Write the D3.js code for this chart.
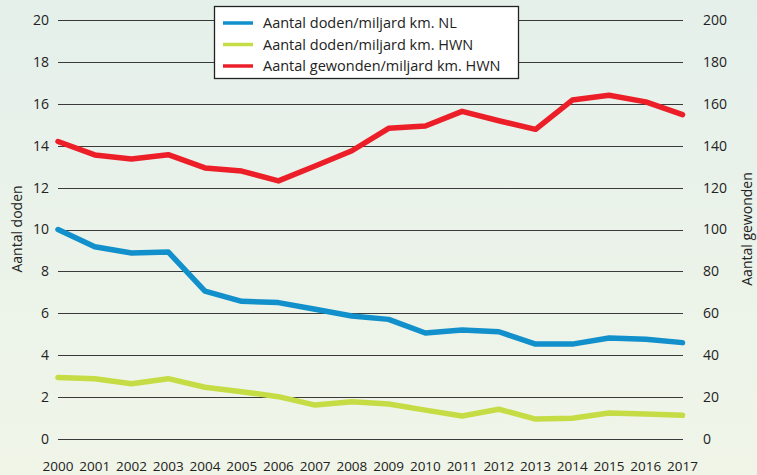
<!DOCTYPE html>
<html>
<head>
<meta charset="utf-8">
<script src="https://cdn.jsdelivr.net/npm/d3@7"></script>
<style>
  body { margin: 0; }
  svg { display: block; font-family: "Open Sans", sans-serif; }
</style>
</head>
<body>
<div id="chart"></div>
<script>
// Data
const years = d3.range(2000, 2018);
const dodenNL = [10.0, 9.18, 8.88, 8.93, 7.06, 6.57, 6.51, 6.19, 5.87, 5.71, 5.06, 5.2, 5.12, 4.53, 4.53, 4.82, 4.76, 4.6];
const dodenHWN = [2.94, 2.88, 2.64, 2.88, 2.47, 2.26, 2.02, 1.62, 1.78, 1.67, 1.38, 1.1, 1.42, 0.95, 0.99, 1.24, 1.19, 1.13];
const gewondenHWN = [142, 135.6, 133.7, 135.7, 129.4, 127.9, 123.2, 130.3, 137.6, 148.3, 149.4, 156.4, 151.9, 147.8, 161.8, 164.1, 160.9, 154.8];
const leftTicks = [0, 2, 4, 6, 8, 10, 12, 14, 16, 18, 20];
const rightTicks = [0, 20, 40, 60, 80, 100, 120, 140, 160, 180, 200];
const legendLabels = ['Aantal doden/miljard km. NL', 'Aantal doden/miljard km. HWN', 'Aantal gewonden/miljard km. HWN'];
const colors = ['#1190cc', '#c6dc44', '#ec1f29'];

const width = 757;
const height = 475;

// Scales
const x_scale = d3.scaleLinear()
    .domain([2000, 2017])
    .range([58, 682.5]);

const y_left = d3.scaleLinear()
    .domain([0, 20])
    .range([439, 20]);

const y_right = d3.scaleLinear()
    .domain([0, 200])
    .range([439, 20]);

// SVG
const svg = d3.select('#chart')
    .append('svg')
    .attr('width', width)
    .attr('height', height);

// Background
const grad = svg.append('defs')
    .append('linearGradient')
    .attr('id', 'bg')
    .attr('x1', 0).attr('y1', 0)
    .attr('x2', 0).attr('y2', 1);
grad.append('stop').attr('offset', '0%').attr('stop-color', '#e5f0eb');
grad.append('stop').attr('offset', '100%').attr('stop-color', '#f0f5e8');

svg.append('rect')
    .attr('width', width)
    .attr('height', height)
    .attr('fill', 'url(#bg)');

// Grid lines
svg.selectAll('.grid')
    .data(leftTicks)
    .enter()
    .append('line')
    .attr('x1', 58)
    .attr('x2', 683)
    .attr('y1', d => Math.round(y_left(d)) + 0.5)
    .attr('y2', d => Math.round(y_left(d)) + 0.5)
    .attr('stroke', '#3a3a3a')
    .attr('stroke-width', 1.2);

// Left tick labels
svg.selectAll('.ltick')
    .data(leftTicks)
    .enter()
    .append('text')
    .attr('x', 49)
    .attr('y', d => y_left(d))
    .attr('dy', '0.35em')
    .attr('text-anchor', 'end')
    .attr('font-size', 14)
    .attr('fill', '#222')
    .text(d => d);

// Right tick labels
svg.selectAll('.rtick')
    .data(rightTicks)
    .enter()
    .append('text')
    .attr('x', 703)
    .attr('y', d => y_right(d))
    .attr('dy', '0.35em')
    .attr('font-size', 14)
    .attr('fill', '#222')
    .text(d => d);

// X labels
svg.selectAll('.xtick')
    .data(years)
    .enter()
    .append('text')
    .attr('x', d => x_scale(d))
    .attr('y', 471)
    .attr('text-anchor', 'middle')
    .attr('font-size', 13.5)
    .attr('fill', '#222')
    .text(d => d);

// Axis titles
svg.append('text')
    .attr('transform', 'translate(22,229) rotate(-90)')
    .attr('text-anchor', 'middle')
    .attr('font-size', 14)
    .attr('fill', '#222')
    .text('Aantal doden');

svg.append('text')
    .attr('transform', 'translate(752,229) rotate(-90)')
    .attr('text-anchor', 'middle')
    .attr('font-size', 14)
    .attr('fill', '#222')
    .text('Aantal gewonden');

// Lines
const series = [
    { values: dodenNL, y: y_left },
    { values: dodenHWN, y: y_left },
    { values: gewondenHWN, y: y_right }
];

series.forEach((s, i) => {
    const line = d3.line()
        .x((d, j) => x_scale(years[j]))
        .y(d => s.y(d));
    svg.append('path')
        .datum(s.values)
        .attr('d', line)
        .attr('fill', 'none')
        .attr('stroke', colors[i])
        .attr('stroke-width', 5.5)
        .attr('stroke-linejoin', 'round')
        .attr('stroke-linecap', 'round');
});

// Legend
const legend = svg.append('g');
legend.append('rect')
    .attr('x', 214.5)
    .attr('y', 6.5)
    .attr('width', 304)
    .attr('height', 72)
    .attr('fill', '#fff')
    .attr('stroke', '#222')
    .attr('stroke-width', 1.3);

legend.selectAll('line')
    .data(legendLabels)
    .enter()
    .append('line')
    .attr('x1', 223)
    .attr('x2', 253)
    .attr('y1', (d, i) => 23 + i * 21.5)
    .attr('y2', (d, i) => 23 + i * 21.5)
    .attr('stroke', (d, i) => colors[i])
    .attr('stroke-width', 3.5);

legend.selectAll('text')
    .data(legendLabels)
    .enter()
    .append('text')
    .attr('x', 263)
    .attr('y', (d, i) => 23 + i * 21.5)
    .attr('dy', '0.35em')
    .attr('font-size', 14.5)
    .attr('fill', '#222')
    .text(d => d);
</script>
</body>
</html>
